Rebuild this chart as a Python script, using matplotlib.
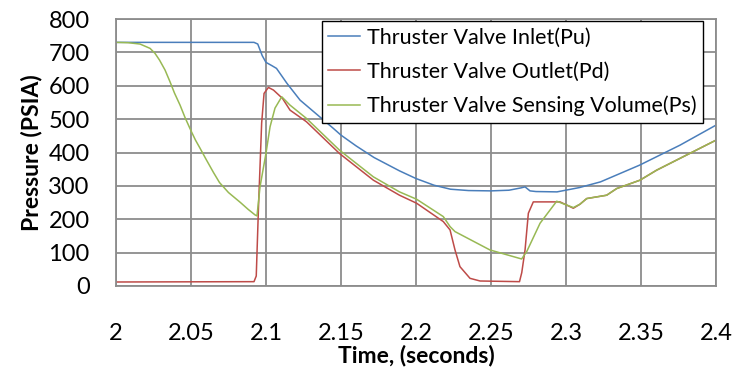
#!/usr/env/bin python3
# -*- encoding utf-8 -*-

"""
Thruster valve pressure transients (inlet, outlet, sensing volume)
"""

# %% Load libraries
import matplotlib
matplotlib.use('Agg')
import matplotlib.pyplot as plt

# %% Data

# inlet pressure Pu
t_pu = [2.0, 2.092, 2.0945, 2.0975, 2.1, 2.104, 2.107, 2.114, 2.1227,
        2.1447, 2.15, 2.16, 2.172, 2.189, 2.2, 2.212, 2.223, 2.235, 2.25,
        2.262, 2.27, 2.2727, 2.276, 2.28, 2.294, 2.309, 2.323, 2.349,
        2.376, 2.4]
pu = [730, 730, 725, 690, 670, 660, 652, 607, 557,
      473, 452, 420, 385, 345, 322, 302, 290, 286, 285,
      287, 294, 297, 285, 283, 282, 295, 312, 362,
      422, 482]

# outlet pressure Pd
t_pd = [2.0, 2.092, 2.0935, 2.095, 2.0971, 2.0987, 2.1016, 2.105, 2.111,
        2.116, 2.127, 2.149, 2.1716, 2.189, 2.2004, 2.2182, 2.2227, 2.226,
        2.2293, 2.236, 2.2427, 2.269, 2.2705, 2.2727, 2.2749, 2.2782, 2.296,
        2.3049, 2.3093, 2.3138, 2.3271, 2.3338, 2.3493, 2.3604, 2.4]
pd_ = [12, 13, 30, 237, 488, 577, 595, 587, 562,
       527, 492, 397, 317, 272, 248, 193, 168, 108,
       58, 23, 15, 13, 40, 108, 218, 252, 252,
       233, 245, 262, 272, 292, 317, 347, 437]

# sensing volume pressure Ps
t_ps = [2.0, 2.008, 2.016, 2.0227, 2.026, 2.029, 2.0327, 2.036, 2.039,
        2.0427, 2.046, 2.05, 2.053, 2.056, 2.06, 2.065, 2.069, 2.075,
        2.083, 2.088, 2.0927, 2.094, 2.096, 2.1, 2.1027, 2.106, 2.1105,
        2.116, 2.127, 2.149, 2.1716, 2.189, 2.2004, 2.2182, 2.2227, 2.226,
        2.2493, 2.2704, 2.2738, 2.2827, 2.2938, 2.3049, 2.3093, 2.3138,
        2.3271, 2.3338, 2.3493, 2.3604, 2.4]
ps = [730, 729, 725, 712, 697, 677, 647, 612, 578,
      542, 505, 465, 437, 413, 380, 340, 310, 280,
      250, 230, 213, 210, 297, 398, 477, 533, 567,
      542, 502, 407, 327, 282, 260, 208, 178, 163,
      108, 81, 103, 188, 254, 235, 245, 262,
      272, 292, 317, 347, 437]

series_labels = ['Thruster Valve Inlet(Pu)',
                 'Thruster Valve Outlet(Pd)',
                 'Thruster Valve Sensing Volume(Ps)']
x_ticks = [2.0, 2.05, 2.1, 2.15, 2.2, 2.25, 2.3, 2.35, 2.4]
x_ticklabels = ['2', '2.05', '2.1', '2.15', '2.2', '2.25', '2.3', '2.35', '2.4']
y_ticks = [0, 100, 200, 300, 400, 500, 600, 700, 800]

# %% Setup
plt.rcParams['font.family'] = ['Lato', 'DejaVu Sans']
grid_c = '#8c8c8c'

# %% Figure
fig = plt.figure(figsize=(7.35, 3.71), dpi=100)
ax = fig.add_axes([116/735, 85/371, 600/735, 267/371])

# --+ lines
ax.plot(t_pu, pu, color='#4a7ebb', lw=1.1, label=series_labels[0])
ax.plot(t_pd, pd_, color='#be4b48', lw=1.1, label=series_labels[1])
ax.plot(t_ps, ps, color='#98b954', lw=1.1, label=series_labels[2])

# --+ axes
ax.set_xlim(2.0, 2.4)
ax.set_ylim(0, 800)
ax.set_xticks(x_ticks)
ax.set_xticklabels(x_ticklabels)
ax.set_yticks(y_ticks)
ax.tick_params(length=0, labelsize=17)
ax.tick_params(axis='x', pad=27)
ax.tick_params(axis='y', pad=19)
ax.grid(True, color=grid_c, lw=1.3)
ax.set_axisbelow(True)
for s in ax.spines.values():
    s.set_color(grid_c)
    s.set_linewidth(1.3)

# --+ labels
ax.set_xlabel('Time, (seconds)', fontsize=16.5, fontweight='bold', labelpad=0)
ax.set_ylabel('Pressure (PSIA)', fontsize=16.5, fontweight='bold', labelpad=4)

# --+ legend
leg = ax.legend(loc='upper right', bbox_to_anchor=(0.978, 0.991),
                borderaxespad=0, fontsize=15.5, fancybox=False,
                framealpha=1, edgecolor='black', handlelength=1.5,
                handletextpad=0.3, labelspacing=0.65, borderpad=0.3)
leg.get_frame().set_linewidth(1.0)

# save plot
fig.savefig('out.png', dpi=100)
